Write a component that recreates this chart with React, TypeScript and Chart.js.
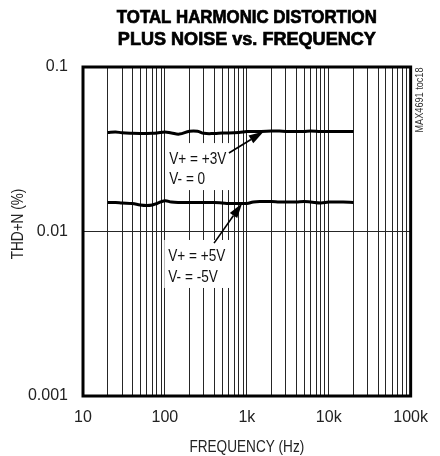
import React, { useEffect, useRef } from 'react';
import { Chart, registerables } from 'chart.js';

Chart.register(...registerables);

const frequencies = [20, 25, 30, 40, 50, 60, 70, 80, 100, 120, 150, 200, 250, 300, 400, 500, 600, 800, 1000, 1200, 1500, 2000, 2500, 3000, 4000, 5000, 6000, 8000, 10000, 12000, 15000, 20000];
const thdPlus3V = [0.0400, 0.0403, 0.0398, 0.0395, 0.0394, 0.0394, 0.0395, 0.0397, 0.0403, 0.0397, 0.0391, 0.0407, 0.0407, 0.0395, 0.0394, 0.0397, 0.0397, 0.0400, 0.0405, 0.0406, 0.0406, 0.0408, 0.0408, 0.0406, 0.0406, 0.0406, 0.0408, 0.0405, 0.0406, 0.0406, 0.0406, 0.0405];
const thdPlus5V = [0.0150, 0.0150, 0.0149, 0.0148, 0.0145, 0.0144, 0.0145, 0.0148, 0.0154, 0.0151, 0.0150, 0.0150, 0.0150, 0.0150, 0.0150, 0.0149, 0.0148, 0.0148, 0.0148, 0.0151, 0.0152, 0.0152, 0.0151, 0.0151, 0.0151, 0.0152, 0.0151, 0.0149, 0.0151, 0.0151, 0.0151, 0.0150];

const xTickValues = [10, 100, 1000, 10000, 100000];
const xTickLabels = ['10', '100', '1k', '10k', '100k'];
const yTickValues = [0.001, 0.01, 0.1];
const yTickLabels = ['0.001', '0.01', '0.1'];

const titleLines = ['TOTAL HARMONIC DISTORTION', 'PLUS NOISE vs. FREQUENCY'];
const xAxisTitle = 'FREQUENCY (Hz)';
const yAxisTitle = 'THD+N (%)';
const sideNote = 'MAX4691 toc18';
const label3V = ['V+ = +3V', 'V- = 0'];
const label5V = ['V+ = +5V', 'V- = -5V'];

const FONT = "'Liberation Sans', Arial, Helvetica, sans-serif";
const NARROW = 0.8;

function narrowText(ctx: CanvasRenderingContext2D, text: string, x: number, y: number, align: 'left' | 'center', sx = NARROW) {
  const w = ctx.measureText(text).width * sx;
  ctx.save();
  ctx.translate(align === 'center' ? x - w / 2 : x, y);
  ctx.scale(sx, 1);
  ctx.textAlign = 'left';
  ctx.fillText(text, 0, 0);
  ctx.restore();
  return w;
}

function drawArrow(ctx: CanvasRenderingContext2D, x1: number, y1: number, x2: number, y2: number) {
  const ang = Math.atan2(y2 - y1, x2 - x1);
  const headLen = 15;
  const headW = 4.5;
  const bx = x2 - headLen * Math.cos(ang);
  const by = y2 - headLen * Math.sin(ang);
  ctx.save();
  ctx.strokeStyle = '#000';
  ctx.fillStyle = '#000';
  ctx.lineWidth = 1.6;
  ctx.beginPath();
  ctx.moveTo(x1, y1);
  ctx.lineTo(bx, by);
  ctx.stroke();
  ctx.beginPath();
  ctx.moveTo(x2, y2);
  ctx.lineTo(bx + headW * Math.sin(ang), by - headW * Math.cos(ang));
  ctx.lineTo(bx - headW * Math.sin(ang), by + headW * Math.cos(ang));
  ctx.closePath();
  ctx.fill();
  ctx.restore();
}

const overlayPlugin = {
  id: 'overlay',
  afterDatasetsDraw(chart: any) {
    const { ctx, chartArea, scales } = chart;
    const xs = scales.x;
    const ys = scales.y;
    const px = (f: number) => xs.getPixelForValue(f);
    const py = (v: number) => ys.getPixelForValue(v);

    const notes = [
      { lines: label3V, fx: 113, vy: 0.0257, lh: 20, tail: [605, 0.030], tip: [1607, 0.0405] },
      { lines: label5V, fx: 110, vy: 0.00662, lh: 21, tail: [398, 0.0085], tip: [877, 0.01486] },
    ];
    ctx.save();
    ctx.font = `17px ${FONT}`;
    for (const n of notes) {
      const x = px(n.fx);
      const y = py(n.vy);
      const w = Math.max(...n.lines.map((l) => ctx.measureText(l).width * NARROW));
      const lastY = y + n.lh * (n.lines.length - 1);
      ctx.fillStyle = '#fff';
      ctx.fillRect(x - 4, y - 21, w + 8, lastY + 6 - (y - 21));
      ctx.fillStyle = '#111';
      ctx.textBaseline = 'alphabetic';
      n.lines.forEach((l, i) => narrowText(ctx, l, x, y + i * n.lh, 'left'));
      drawArrow(ctx, px(n.tail[0]), py(n.tail[1]), px(n.tip[0]), py(n.tip[1]));
    }
    ctx.restore();

    ctx.save();
    ctx.strokeStyle = '#000';
    ctx.lineWidth = 3;
    ctx.strokeRect(chartArea.left, chartArea.top, chartArea.right - chartArea.left, chartArea.bottom - chartArea.top);
    ctx.restore();
  },
  afterDraw(chart: any) {
    const { ctx, chartArea } = chart;
    const cx = (chartArea.left + chartArea.right) / 2;
    ctx.save();
    ctx.fillStyle = '#000';
    ctx.textBaseline = 'alphabetic';
    ctx.textAlign = 'left';
    ctx.font = `bold 18px ${FONT}`;
    const widths = [260, 258];
    const bases = [23, 45];
    titleLines.forEach((t, i) => {
      const m = ctx.measureText(t).width;
      const s = widths[i] / m;
      ctx.save();
      ctx.translate(cx - widths[i] / 2, bases[i]);
      ctx.scale(s, 1);
      ctx.fillText(t, 0, 0);
      ctx.lineWidth = 0.7;
      ctx.strokeStyle = '#000';
      ctx.strokeText(t, 0, 0);
      ctx.restore();
    });
    ctx.font = `17px ${FONT}`;
    ctx.fillStyle = '#222';
    ctx.textBaseline = 'alphabetic';
    narrowText(ctx, xAxisTitle, cx, 452, 'center');
    ctx.save();
    ctx.translate(23, 224);
    ctx.rotate(-Math.PI / 2);
    narrowText(ctx, yAxisTitle, 0, 0, 'center');
    ctx.restore();
    ctx.save();
    ctx.font = `10px ${FONT}`;
    ctx.fillStyle = '#333';
    ctx.translate(423, 100);
    ctx.rotate(-Math.PI / 2);
    const sw = ctx.measureText(sideNote).width;
    narrowText(ctx, sideNote, 0, 0, 'center', 65 / sw);
    ctx.restore();
    ctx.restore();
  },
};

export default function App() {
  const ref = useRef<HTMLCanvasElement>(null);
  useEffect(() => {
    if (!ref.current) return;
    const chart = new Chart(ref.current, {
      type: 'line',
      data: {
        datasets: [
          {
            data: frequencies.map((f, i) => ({ x: f, y: thdPlus3V[i] })),
            borderColor: '#000',
            borderWidth: 3,
            pointRadius: 0,
            tension: 0.4,
            fill: false,
          },
          {
            data: frequencies.map((f, i) => ({ x: f, y: thdPlus5V[i] })),
            borderColor: '#000',
            borderWidth: 3,
            pointRadius: 0,
            tension: 0.4,
            fill: false,
          },
        ],
      },
      options: {
        responsive: false,
        animation: false,
        layout: { padding: { top: 67, right: 27, left: 0, bottom: 0 } },
        plugins: { legend: { display: false }, tooltip: { enabled: false }, title: { display: false } },
        scales: {
          x: {
            type: 'logarithmic',
            min: 10,
            max: 100000,
            afterFit: (s: any) => { s.height = 60; },
            afterBuildTicks: (s: any) => {
              const t: any[] = [];
              xTickValues.forEach((v, i) => {
                t.push({ value: v });
                if (i < xTickValues.length - 1) for (let m = 2; m <= 9; m++) t.push({ value: v * m });
              });
              s.ticks = t;
            },
            grid: { color: '#262626', lineWidth: 1, drawTicks: false },
            border: { display: false },
            ticks: {
              autoSkip: false,
              maxRotation: 0,
              minRotation: 0,
              padding: 12,
              color: '#222',
              font: { family: FONT, size: 16 },
              callback: (v: any) => {
                const i = xTickValues.indexOf(Number(v));
                return i >= 0 ? xTickLabels[i] : '';
              },
            },
          },
          y: {
            type: 'logarithmic',
            min: 0.001,
            max: 0.1,
            afterFit: (s: any) => { s.width = 83; },
            afterBuildTicks: (s: any) => { s.ticks = yTickValues.map((v) => ({ value: v })); },
            grid: { color: '#262626', lineWidth: 1, drawTicks: false },
            border: { display: false },
            ticks: {
              autoSkip: false,
              padding: 15,
              color: '#222',
              font: { family: FONT, size: 16 },
              callback: (v: any) => {
                const i = yTickValues.indexOf(Number(v));
                return i >= 0 ? yTickLabels[i] : '';
              },
            },
          },
        },
      },
      plugins: [overlayPlugin],
    } as any);
    return () => chart.destroy();
  }, []);
  return (
    <div style={{ position: 'fixed', left: 0, top: 0, width: 440, height: 456, background: '#fff' }}>
      <canvas ref={ref} width={440} height={456} />
    </div>
  );
}
